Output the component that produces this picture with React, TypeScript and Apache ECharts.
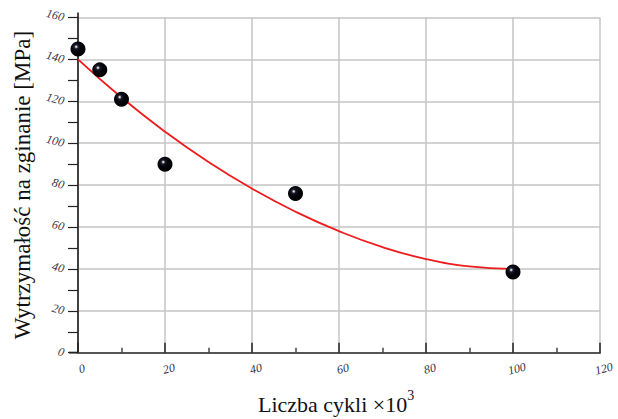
import React, { useEffect, useRef } from "react";
import * as echarts from "echarts";

const pointsX = [0, 5, 10, 20, 50, 100];
const pointsY = [145, 135, 121, 90, 76, 38.5];

const fitX = [0, 10, 20, 30, 40, 50, 60, 70, 80, 90, 100];
const fitY = [140, 121.8, 105.5, 91, 78.3, 67.3, 58, 50.4, 44.7, 41.2, 40];

const xTitle = "Liczba cykli ×10";
const xTitleSup = "3";
const yTitle = "Wytrzymałość na zginanie [MPa]";

const serif = "Liberation Serif";

export default function App() {
  const ref = useRef<HTMLDivElement>(null);
  useEffect(() => {
    if (!ref.current) return;
    const chart = echarts.init(ref.current, undefined, { renderer: "svg" });
    const ball = new echarts.graphic.RadialGradient(0.38, 0.36, 0.6, [
      { offset: 0, color: "#ffffff" },
      { offset: 0.07, color: "#c8c8d0" },
      { offset: 0.22, color: "#1c1c2c" },
      { offset: 0.5, color: "#05050c" },
      { offset: 1, color: "#000000" },
    ]);
    chart.setOption({
      animation: false,
      backgroundColor: "#ffffff",
      grid: { left: 78, right: 18, top: 17.5, bottom: 66.3 },
      xAxis: {
        type: "value",
        min: 0,
        max: 120,
        interval: 20,
        axisLine: { show: true, lineStyle: { color: "#555555", width: 2 } },
        axisTick: { show: true, inside: true, length: 10, lineStyle: { color: "#222", width: 1.5 } },
        minorTick: { show: true, splitNumber: 2, length: 5, lineStyle: { color: "#444", width: 1.5 } },
        splitLine: { show: true, lineStyle: { color: "#c4c4c4", width: 1.5 } },
        axisLabel: {
          rotate: 15,
          align: "center",
          margin: 17,
          fontFamily: serif,
          fontStyle: "italic",
          fontSize: 12,
          color: "#333344",
          padding: [0, 0, 0, 8],
        },
      },
      yAxis: {
        type: "value",
        min: 0,
        max: 160,
        interval: 20,
        name: yTitle,
        nameLocation: "middle",
        nameGap: 44,
        nameTextStyle: { fontFamily: serif, fontSize: 23, color: "#111" },
        axisLine: { show: true, lineStyle: { color: "#111", width: 1.5 } },
        axisTick: { show: true, inside: false, length: 10, lineStyle: { color: "#222", width: 1.2 } },
        minorTick: { show: true, splitNumber: 2, length: 10, lineStyle: { color: "#222", width: 1.2 } },
        splitLine: { show: true, lineStyle: { color: "#c4c4c4", width: 1.5 } },
        axisLabel: {
          rotate: -15,
          margin: 14,
          fontFamily: serif,
          fontStyle: "italic",
          fontSize: 12,
          color: "#333344",
        },
      },
      series: [
        {
          type: "line",
          data: fitX.map((x, i) => [x, fitY[i]]),
          smooth: true,
          showSymbol: false,
          symbol: "none",
          lineStyle: { color: "#ee1c1c", width: 1.8 },
          z: 2,
        },
        {
          type: "scatter",
          data: pointsX.map((x, i) => [x, pointsY[i]]),
          symbolSize: 15,
          itemStyle: { color: ball, opacity: 1 },
          z: 3,
        },
      ],
    });
    const origin = chart.convertToPixel({ gridIndex: 0 }, [0, 0]) as number[];
    const top = chart.convertToPixel({ gridIndex: 0 }, [0, 160]) as number[];
    chart.setOption({
      graphic: [
        {
          type: "text",
          left: 258,
          top: 388,
          style: {
            text: "{a|" + xTitle + "}{s|" + xTitleSup + "}",
            rich: {
              a: { fontFamily: serif, fontSize: 22, fill: "#111", verticalAlign: "bottom" },
              s: { fontFamily: serif, fontSize: 14, fill: "#111", verticalAlign: "top", padding: [0, 0, 13, 0] },
            },
          },
        },
        {
          type: "line",
          shape: { x1: top[0], y1: top[1] - 5, x2: top[0], y2: top[1] },
          style: { stroke: "#111", lineWidth: 1.5 },
        },
        {
          type: "line",
          shape: { x1: origin[0] - 9, y1: origin[1], x2: origin[0], y2: origin[1] },
          style: { stroke: "#555555", lineWidth: 2 },
        },
      ],
    });
    return () => chart.dispose();
  }, []);
  return (
    <div
      ref={ref}
      style={{ position: "absolute", left: 0, top: 0, width: 618, height: 419 }}
    />
  );
}
